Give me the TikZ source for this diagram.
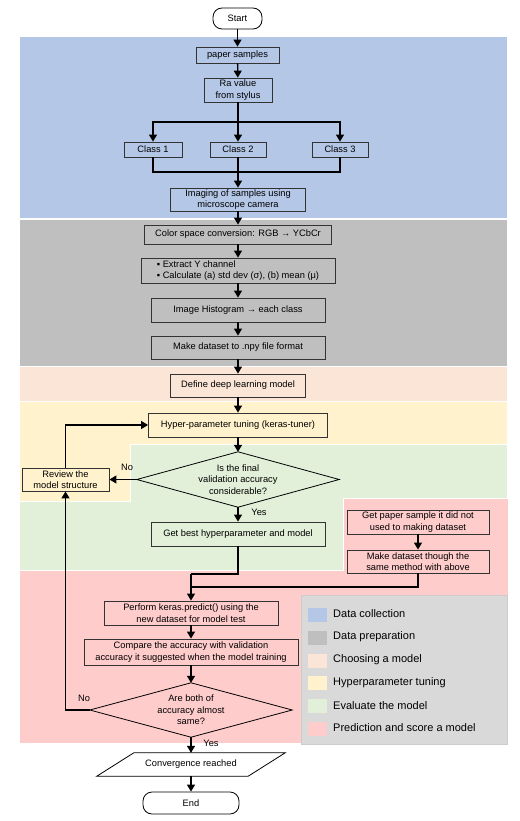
\documentclass[tikz,border=0pt]{standalone}
\usepackage{fontspec}
\setmainfont{Liberation Sans}
\usetikzlibrary{arrows.meta}
\definecolor{collect}{RGB}{180,199,231}
\definecolor{prepare}{RGB}{191,191,191}
\definecolor{choose}{RGB}{251,229,214}
\definecolor{tuning}{RGB}{255,242,204}
\definecolor{evaluate}{RGB}{226,240,217}
\definecolor{predict}{RGB}{255,204,204}
\definecolor{legendbg}{RGB}{217,217,217}
\begin{document}
\begin{tikzpicture}[x=1pt,y=-1pt,
every node/.append style={font={\fontsize{9.3}{11.5}\selectfont}},
box/.style={draw=black!80,line width=0.8pt,inner sep=1pt,align=center},
term/.style={draw,line width=0.8pt,rounded corners=9pt,inner sep=1pt},
comm/.style={-{Triangle[width=8pt,length=7pt]},line width=1.3pt},
joint/.style={line width=1.3pt},
region/.style={draw=white,line width=1pt},
legendtext/.style={anchor=west,inner sep=0pt,font={\fontsize{11}{13}\selectfont}},
swatch/.style={minimum width=19pt,minimum height=14pt,inner sep=0pt},
]
\path[fill=white] (0,0) rectangle (519,821);
\useasboundingbox (0,0) rectangle (519,821);

% stages
\path[region,fill=collect] (19,37) rectangle (507,218);
\path[region,fill=prepare] (19,219) rectangle (507,366);
\path[region,fill=choose] (19,366) rectangle (507,401);
\path[region,fill=tuning] (19,401) -- (507,401) -- (507,444) -- (130,444) -- (130,501) -- (19,501) -- cycle;
\path[region,fill=evaluate] (130,444) -- (507,444) -- (507,498) -- (343,498) -- (343,570) -- (19,570) -- (19,501) -- (130,501) -- cycle;
\path[region,fill=predict] (19,570) -- (343,570) -- (343,498) -- (508,498) -- (508,743) -- (19,743) -- cycle;

\node[term,minimum width=49,minimum height=21] (start) at (237.5,18.5) {Start};
\node[box,minimum width=83,minimum height=16] (paper) at (237.5,55) {paper samples};
\node[box,minimum width=68,minimum height=24] (ra) at (238,90) {Ra value\\from stylus};
\node[box,minimum width=58,minimum height=15] (c1) at (153,149.5) {Class 1};
\node[box,minimum width=56,minimum height=15] (c2) at (238,149.5) {Class 2};
\node[box,minimum width=56,minimum height=15] (c3) at (340,149.5) {Class 3};
\node[box,minimum width=135,minimum height=23] (imaging) at (238,199.5) {Imaging of samples using\\microscope camera};
\node[box,minimum width=187,minimum height=19] (color) at (238,234.5) {Color space conversion: RGB → YCbCr};
\node[box,align=left,minimum width=194,minimum height=25] (extract) at (238,270.5) {▪ Extract Y channel\\▪ Calculate (a) std dev (σ), (b) mean (μ)};
\node[box,minimum width=174,minimum height=24] (hist) at (238,310) {Image Histogram → each class};
\node[box,minimum width=174,minimum height=23] (npy) at (238,347.5) {Make dataset to .npy file format};
\node[box,minimum width=135,minimum height=23] (define) at (238,385.5) {Define deep learning model};
\node[box,minimum width=179,minimum height=24] (hyper) at (238,425) {Hyper-parameter tuning (keras-tuner)};
\node[align=center,inner sep=0pt,minimum width=202,minimum height=55] (d1) at (238,479.5) {Is the final\\validation accuracy\\considerable?};
\draw[line width=0.8pt] (d1.north) -- (d1.east) -- (d1.south) -- (d1.west) -- cycle;
\node[box,minimum width=87,minimum height=23] (review) at (65.5,479.5) {Review the\\model structure};
\node[box,minimum width=174,minimum height=24] (getbest) at (238,534) {Get best hyperparameter and model};
\node[box,minimum width=142,minimum height=24] (getpaper) at (418,522) {Get paper sample it did not\\used to making dataset};
\node[box,minimum width=142,minimum height=23] (make2) at (418,561.5) {Make dataset though the\\same method with above};
\node[box,minimum width=174,minimum height=24] (perform) at (191,613) {Perform keras.predict() using the\\new dataset for model test};
\node[box,minimum width=214,minimum height=26] (compare) at (191,652) {Compare the accuracy with validation\\accuracy it suggested when the model training};
\node[align=center,inner sep=0pt,minimum width=202,minimum height=54] (d2) at (191,710) {Are both of\\accuracy almost\\same?};
\draw[line width=0.8pt] (d2.north) -- (d2.east) -- (d2.south) -- (d2.west) -- cycle;
\node[inner sep=0pt,minimum width=151,minimum height=23] (conv) at (191,764.5) {Convergence reached};
\draw[line width=0.8pt] ([xshift=18.5]conv.north west) -- ([xshift=18.5]conv.north east) -- ([xshift=-18.5]conv.south east) -- ([xshift=-18.5]conv.south west) -- cycle;
\node[term,minimum width=96,minimum height=22] (stop) at (191,803) {End};

\node (no1) at (127,467) {No};
\node (yes1) at (259,512) {Yes};
\node (no2) at (84,698) {No};
\node (yes2) at (211,743) {Yes};

\coordinate (fork) at (238,122);
\coordinate (join) at (238,172);
\coordinate (merge) at (191,574);
\coordinate (merge2) at (191,587);

\draw[comm] (start) -- (paper);
\draw[comm] (paper) -- (ra);
\draw[comm] (ra) -- (c2);
\draw[comm] (fork) -| (c1);
\draw[comm] (fork) -| (c3);
\draw[joint] (c1) |- (join);
\draw[joint] (c3) |- (join);
\draw[comm] (c2) -- (imaging);
\draw[comm] (imaging) -- (color);
\draw[comm] (color) -- (extract);
\draw[comm] (extract) -- (hist);
\draw[comm] (hist) -- (npy);
\draw[comm] (npy) -- (define);
\draw[comm] (define) -- (hyper);
\draw[comm] (hyper) -- (d1);
\draw[comm] (d1) -- (review);
\draw[comm] (review) |- (hyper);
\draw[comm] (d1) -- (getbest);
\draw[joint] (getbest) |- (merge);
\draw[comm] (getpaper) -- (make2);
\draw[joint] (make2) |- (merge2);
\draw[comm] (merge) -- (perform);
\draw[comm] (perform) -- (compare);
\draw[comm] (compare) -- (d2);
\draw[comm] (d2.west) -| (review);
\draw[comm] (d2) -- (conv);
\draw[comm] (conv) -- (stop);

% legend
\node[draw=black!20,fill=legendbg,minimum width=206,minimum height=149,inner sep=0pt] (legend) at (404,669.5) {};
\node[swatch,fill=collect] (s1) at (317.5,615) {};
\node[legendtext] (l1) at (333,614) {Data collection};
\node[swatch,fill=prepare] (s2) at (317.5,637.8) {};
\node[legendtext] (l2) at (333,636.8) {Data preparation};
\node[swatch,fill=choose] (s3) at (317.5,660.6) {};
\node[legendtext] (l3) at (333,659.6) {Choosing a model};
\node[swatch,fill=tuning] (s4) at (317.5,683.4) {};
\node[legendtext] (l4) at (333,682.4) {Hyperparameter tuning};
\node[swatch,fill=evaluate] (s5) at (317.5,706.2) {};
\node[legendtext] (l5) at (333,705.2) {Evaluate the model};
\node[swatch,fill=predict] (s6) at (317.5,729) {};
\node[legendtext] (l6) at (333,728) {Prediction and score a model};
\end{tikzpicture}
\end{document}
